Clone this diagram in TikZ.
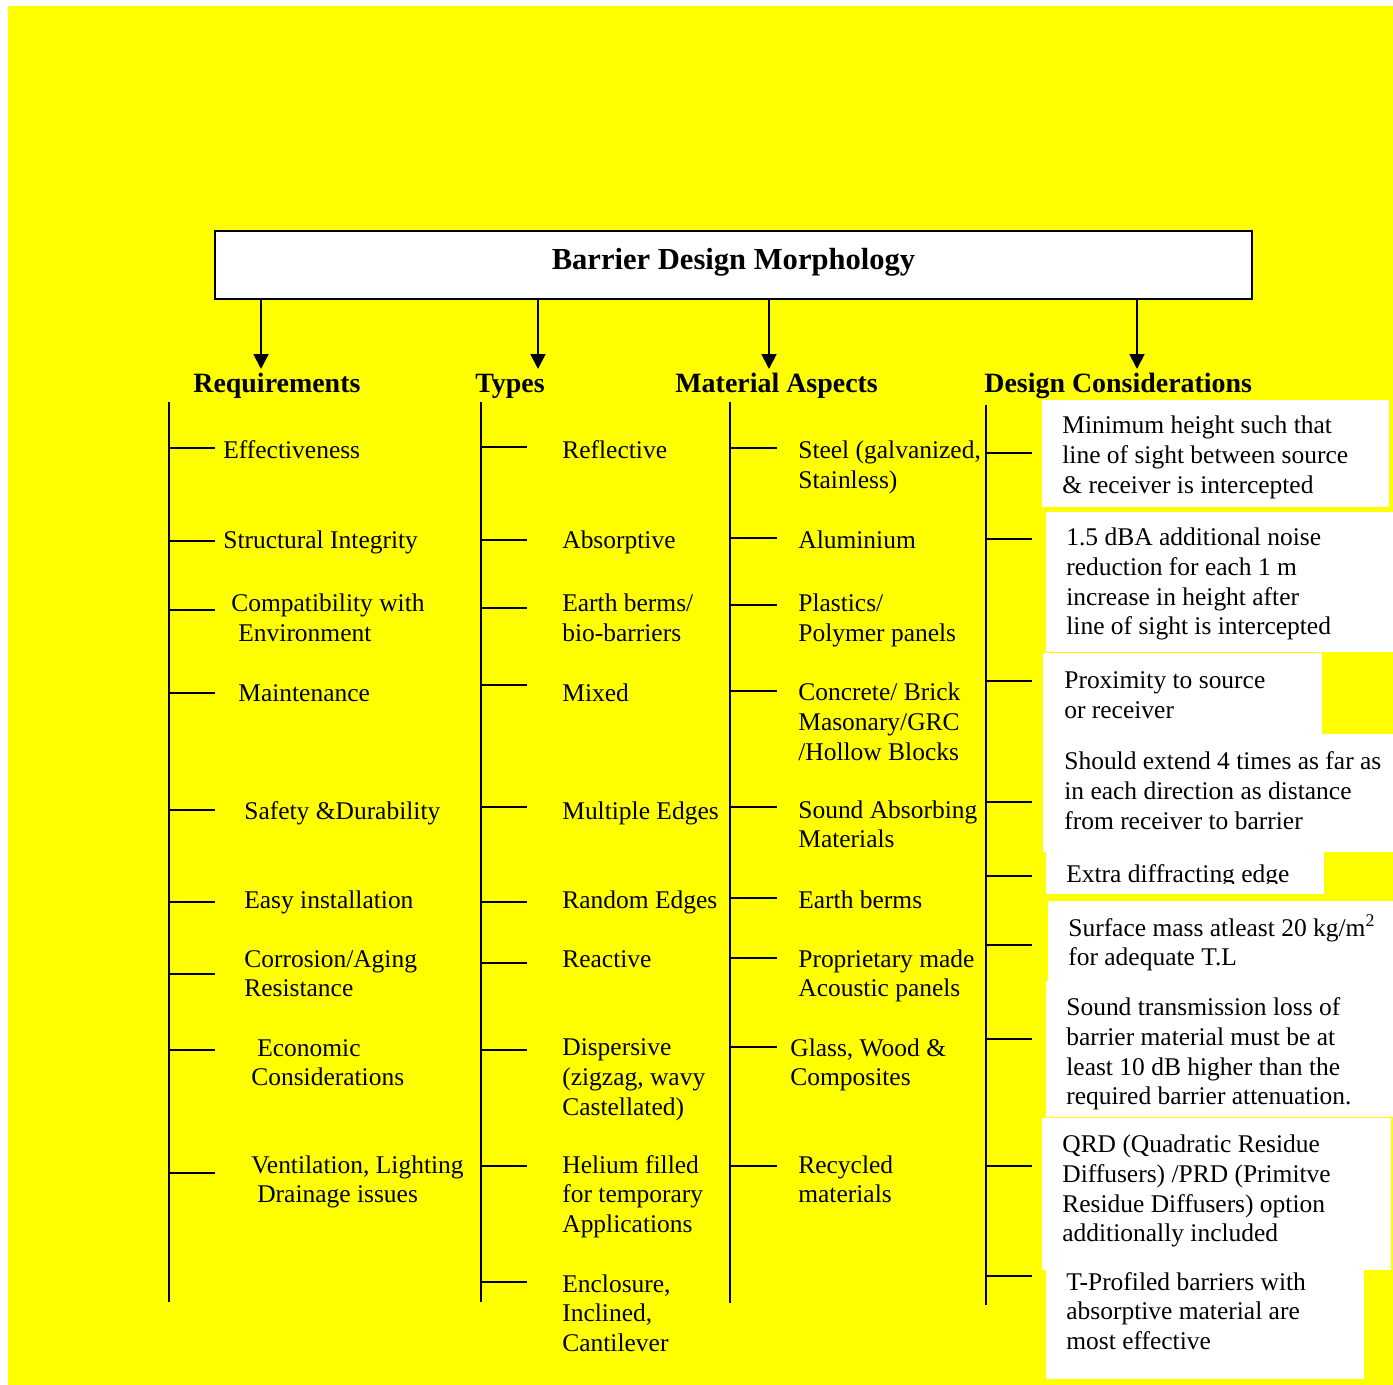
\documentclass[tikz,border=0pt]{standalone}
\usepackage{fontspec}
\setmainfont{Liberation Serif}
\usetikzlibrary{arrows.meta}
\definecolor{barrieryellow}{RGB}{255,255,0}

\begin{document}
\begin{tikzpicture}[x=0.02cm,y=-0.02cm]

  \tikzstyle{sheet} = [fill=barrieryellow];
  \tikzstyle{outer} = [rectangle,draw=black,line width=1.1pt,fill=white,minimum width=20.74cm,minimum height=1.36cm,text height=10pt,text depth=5.4pt,font=\fontsize{17.4}{20}\selectfont\bfseries];
  \tikzstyle{head} = [anchor=base west,inner sep=0pt,font=\fontsize{15.9}{18.5}\selectfont\bfseries];
  % base of a multi-line item is its last line
  \tikzstyle{item} = [anchor=base west,inner sep=0pt,align=left,font=\fontsize{14.5}{16.85}\selectfont];
  \tikzstyle{note} = [fill=white];
  \tikzstyle{spine} = [line width=1.1pt];
  \tikzstyle{tick} = [line width=1.1pt];
  \tikzstyle{arrow} = [line width=1.1pt,-{Triangle[width=8.5pt,length=8.5pt]}];

  \useasboundingbox (0,0) rectangle (1393,1385);
  \fill[sheet] (8,6) rectangle (1393,1385);

  \node [outer] (title) at (733.5,265) {Barrier Design Morphology};

  \node [head] (req)   at (193,393) {Requirements};
  \node [head] (types) at (475,393) {Types};
  \node [head] (mat)   at (675,393) {Material Aspects};
  \node [head] (des)   at (984,393) {Design Considerations};

  \coordinate (req-tip)   at (261,369);
  \coordinate (types-tip) at (538,369);
  \coordinate (mat-tip)   at (769,369);
  \coordinate (des-tip)   at (1137,369);

  \draw[arrow] (title.south -| req-tip)   -- (req-tip);
  \draw[arrow] (title.south -| types-tip) -- (types-tip);
  \draw[arrow] (title.south -| mat-tip)   -- (mat-tip);
  \draw[arrow] (title.south -| des-tip)   -- (des-tip);

  % white boxes behind the design notes
  \fill[note] (1042,400) rectangle (1389,507);
  \fill[note] (1046,512) rectangle (1393,652);
  \fill[note] (1043,653) rectangle (1322,734);
  \fill[note] (1043,734) rectangle (1393,852);
  \fill[note] (1046,852) rectangle (1324,894);
  \fill[note] (1048,901) rectangle (1393,981);
  \fill[note] (1046,981) rectangle (1393,1117);
  \fill[note] (1042,1118) rectangle (1391,1270);
  \fill[note] (1046,1270) rectangle (1364,1379);

  \coordinate (req-top)   at (169,402);  \coordinate (req-bot)   at (169,1302);
  \coordinate (types-top) at (481,402);  \coordinate (types-bot) at (481,1302);
  \coordinate (mat-top)   at (730,402);  \coordinate (mat-bot)   at (730,1303);
  \coordinate (des-top)   at (986,405);  \coordinate (des-bot)   at (986,1305);

  \draw[spine] (req-top) -- (req-bot);
  \draw[spine] (types-top) -- (types-bot);
  \draw[spine] (mat-top) -- (mat-bot);
  \draw[spine] (des-top) -- (des-bot);

  \foreach \y in {448,541,610,693,810,902,974,1050,1173}
    \draw[tick] (req-top |- 0,\y) -- ++(46,0);
  \foreach \y in {447,540,608,685,807,902,963,1050,1166,1282}
    \draw[tick] (types-top |- 0,\y) -- ++(46,0);
  \foreach \y in {448,538,605,691,807,898,958,1047,1166}
    \draw[tick] (mat-top |- 0,\y) -- ++(47,0);
  \foreach \y in {453,539,681,802,876,945,1039,1166,1276}
    \draw[tick] (des-top |- 0,\y) -- ++(46,0);

  \node [item] (req-1) at (223,459)    {Effectiveness};
  \node [item] (req-2) at (223,548)    {Structural Integrity};
  \node [item] (req-3) at (231,641.6)  {Compatibility with\\\hspace*{4pt}Environment};
  \node [item] (req-4) at (238,701)    {Maintenance};
  \node [item] (req-5) at (244,819)    {Safety \&Durability};
  \node [item] (req-6) at (244,908)    {Easy installation};
  \node [item] (req-7) at (244,996.6)  {Corrosion/Aging\\Resistance};
  \node [item] (req-8) at (251,1085.6) {\hspace*{3.4pt}Economic\\Considerations};
  \node [item] (req-9) at (251,1202.6) {Ventilation, Lighting\\\hspace*{3.4pt}Drainage issues};

  \node [item] (types-1)  at (562,459)    {Reflective};
  \node [item] (types-2)  at (562,548)    {Absorptive};
  \node [item] (types-3)  at (562,641.6)  {Earth berms/\\bio-barriers};
  \node [item] (types-4)  at (562,701)    {Mixed};
  \node [item] (types-5)  at (562,819)    {Multiple Edges};
  \node [item] (types-6)  at (562,908)    {Random Edges};
  \node [item] (types-7)  at (562,967)    {Reactive};
  \node [item] (types-8)  at (562,1115.2) {Dispersive\\(zigzag, wavy\\Castellated)};
  \node [item] (types-9)  at (562,1232.2) {Helium filled\\for temporary\\Applications};
  \node [item] (types-10) at (562,1351.2) {Enclosure,\\Inclined,\\Cantilever};

  \node [item] (mat-1) at (798,488.6)  {Steel (galvanized,\\Stainless)};
  \node [item] (mat-2) at (798,548)    {Aluminium};
  \node [item] (mat-3) at (798,641.6)  {Plastics/\\Polymer panels};
  \node [item] (mat-4) at (798,760.2)  {Concrete/ Brick\\Masonary/GRC\\/Hollow Blocks};
  \node [item] (mat-5) at (798,847.6)  {Sound Absorbing\\Materials};
  \node [item] (mat-6) at (798,908)    {Earth berms};
  \node [item] (mat-7) at (798,996.6)  {Proprietary made\\Acoustic panels};
  \node [item] (mat-8) at (790,1085.6) {Glass, Wood \&\\Composites};
  \node [item] (mat-9) at (798,1202.6) {Recycled\\materials};

  \node [item] (des-1) at (1062,493.2)  {Minimum height such that\\line of sight between source\\\& receiver is intercepted};
  \node [item] (des-2) at (1066,634.8)  {1.5 dBA additional noise\\reduction for each 1 m\\increase in height after\\line of sight is intercepted};
  \node [item] (des-3) at (1064,718.6)  {Proximity to source\\or receiver};
  \node [item] (des-4) at (1064,829.2)  {Should extend 4 times as far as\\in each direction as distance\\from receiver to barrier};
  \begin{scope}
    \clip (1046,852) rectangle (1324,883);
    \node [item] (des-5) at (1066,882) {Extra diffracting edge};
  \end{scope}
  \node [item] (des-6) at (1068,965.6)  {Surface mass atleast 20 kg/m\textsuperscript{2}\\for adequate T.L};
  \node [item] (des-7) at (1066,1104.8) {Sound transmission loss of\\barrier material must be at\\least 10 dB higher than the\\required barrier attenuation.};
  \node [item] (des-8) at (1062,1241.8) {QRD (Quadratic Residue\\Diffusers) /PRD (Primitve\\Residue Diffusers) option\\additionally included};
  \node [item] (des-9) at (1066,1349.2) {T-Profiled barriers with\\absorptive material are\\most effective};

\end{tikzpicture}
\end{document}
